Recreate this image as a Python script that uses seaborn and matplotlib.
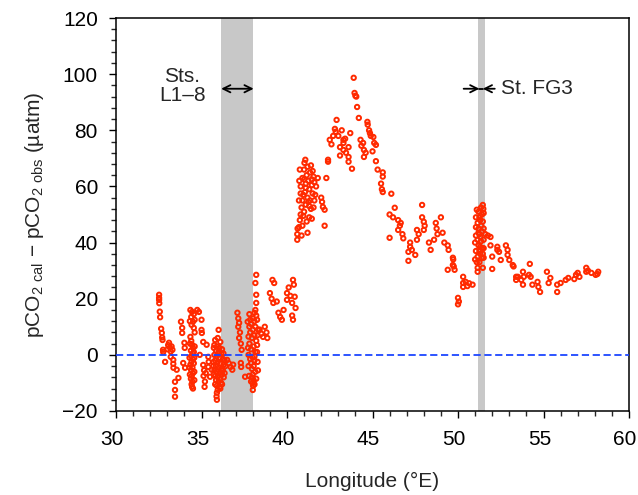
import matplotlib
matplotlib.use("Agg")
import matplotlib.pyplot as plt
from matplotlib.ticker import MultipleLocator
from matplotlib.transforms import ScaledTranslation
import pandas as pd
import seaborn as sns

# Longitude (°E) and pCO2 difference (µatm) along the cruise track, grouped by section
lon_west = [32.52, 32.52, 32.52, 32.53, 32.56, 32.58, 32.64, 32.68, 32.70, 32.72, 32.75, 32.76,
            32.87, 33.02, 33.05, 33.10, 33.15, 33.20, 33.20, 33.25, 33.30, 33.35, 33.35, 33.36,
            33.45, 33.45, 33.45, 33.55, 33.65, 33.80, 33.87, 33.87, 34.00, 34.02, 33.93, 34.04]
diff_west = [21.4, 20.3, 19.6, 18.4, 15.4, 13.4, 9.3, 7.8, 6.2, 5.3, 1.8, 1.0,
             -2.5, 2.0, 3.5, 4.3, 2.6, 1.2, -0.7, 3.0, 1.8, -1.8, -3.2, -4.6,
             -9.6, -12.5, -14.9, -5.3, -8.2, 11.8, 9.6, 7.8, 4.3, 2.5, -2.9, -4.6]

lon_34 = [34.35, 34.45, 34.55, 34.40, 34.50, 34.42, 34.55, 34.35, 34.40, 34.45, 34.50, 34.38,
          34.48, 34.40, 34.50, 34.42, 34.35, 34.47, 34.40, 34.50, 34.43, 34.38, 34.47, 34.42,
          34.45, 34.55, 34.58, 34.30, 34.55, 34.32, 34.60, 34.33, 34.58, 34.32, 34.58, 34.60,
          34.30, 34.60, 34.50,
          34.75, 34.85, 35.00, 35.00, 35.02, 35.10, 34.90,
          35.10, 35.15, 35.12, 35.20, 35.18, 35.25, 35.30, 35.40, 35.42, 35.40, 35.50, 35.60]
diff_34 = [16.0, 15.3, 14.5, 13.5, 11.8, 10.7, 9.6, 6.4, 5.0, 3.6, 2.5, 1.5,
           0.5, -0.5, -1.5, -2.5, -3.5, -4.5, -5.5, -6.5, -7.5, -8.5, -9.5, -10.5,
           -11.4, -3.0, -6.0, -1.0, 1.0, 12.0, 8.0, 4.0, -1.0, -7.0, -9.0, 3.0,
           -4.5, 12.5, -12.0,
           16.0, 15.3, 12.5, 8.9, 7.8, 4.6, 0.0,
           -3.6, -5.5, -7.5, -9.5, -11.4, -6.5, 3.6, -0.7, -2.5, -4.3, -7.8, -5.3]

lon_36 = [36.00, 35.95, 35.80, 36.10, 35.75, 35.90, 36.05, 36.20, 35.85, 36.00, 36.15, 35.75,
          35.90, 36.05, 36.25, 35.80, 35.95, 36.10, 36.30, 35.85, 36.00, 36.15, 35.75, 35.90,
          36.05, 36.20, 35.80, 35.95, 36.10, 35.85, 36.00, 36.15, 35.90, 36.05, 35.95, 35.90,
          35.88, 35.90, 36.35, 36.40, 35.70, 35.72, 36.25, 36.30, 36.28, 35.72, 36.20, 36.10,
          35.80, 36.35, 35.70,
          36.50, 36.60, 36.70, 36.80, 36.85,
          37.10, 37.15, 37.20, 37.15, 37.25, 37.20, 37.30, 37.35, 37.30, 37.32, 37.55, 37.70]
diff_36 = [8.9, 6.0, 5.3, 4.6, 3.5, 3.0, 2.5, 2.0, 1.5, 1.0, 0.5, 0.0,
           -0.5, -1.0, -1.5, -2.0, -2.5, -3.0, -3.5, -4.0, -4.5, -5.0, -5.5, -6.0,
           -6.5, -7.0, -7.5, -8.0, -8.5, -9.0, -9.5, -10.0, -11.0, -11.5, -12.5, -13.5,
           -14.8, -16.0, -2.0, -4.0, -2.5, -7.0, -5.5, -8.0, 0.5, 2.5, -10.5, -12.0,
           -10.5, -6.5, -4.0,
           -1.8, -3.0, -4.3, -5.3, -3.5,
           15.0, 13.0, 11.4, 10.0, 8.0, 6.0, 4.0, 1.8, -2.9, -4.3, -7.8, 11.8]

lon_38 = [38.20, 38.15, 38.20, 38.20, 38.15, 38.10, 38.20, 38.00, 38.10, 37.90, 38.15, 38.00,
          37.85, 38.10, 37.95, 38.20, 37.80, 38.05, 37.90, 38.15, 37.75, 38.00, 38.10, 37.90,
          38.05, 37.95, 38.15, 38.00, 37.95, 38.05, 38.00, 38.02, 38.00, 38.25, 38.30, 37.80,
          37.85, 38.25, 37.75, 38.10, 37.75, 37.78, 38.28, 38.30, 37.72, 38.28, 37.80, 38.25,
          37.90, 38.10, 38.20, 37.85]
diff_38 = [28.5, 25.6, 21.4, 18.5, 16.0, 15.0, 14.0, 13.0, 12.0, 11.0, 10.0, 9.0,
           8.0, 7.0, 6.0, 5.0, 4.0, 3.0, 2.0, 1.0, 0.0, -1.0, -2.0, -3.0,
           -4.0, -5.0, -6.0, -7.0, -8.0, -9.0, -10.0, -11.0, -12.5, 12.5, 9.0, 14.5,
           -1.5, 3.5, 6.5, -0.5, -4.0, -7.5, -2.5, -5.5, 2.5, 7.0, 10.0, 1.0,
           -9.5, -10.5, -8.5, 12.5]

lon_39 = [38.40, 38.50, 38.60, 38.70, 38.80, 38.85, 39.15, 39.25, 39.00, 39.10, 39.20, 39.40,
          39.50, 39.60, 39.70, 39.80, 40.00, 40.00, 40.10, 40.20, 40.30, 40.35, 40.40, 40.45,
          40.50, 40.30, 40.35]
diff_39 = [9.0, 7.5, 6.4, 10.0, 8.0, 6.0, 26.7, 25.6, 22.0, 20.0, 18.5, 19.0,
           15.0, 13.5, 12.5, 16.0, 22.0, 19.6, 24.0, 21.0, 18.5, 26.7, 25.0, 20.7,
           16.7, 14.0, 12.5]

lon_41 = [40.60, 40.60, 40.62, 40.90, 40.75, 40.80, 41.00, 40.85, 41.10, 40.90, 41.20, 40.95,
          41.05, 41.30, 40.80, 41.10, 41.25, 40.90, 41.15, 41.35, 41.00, 41.20, 41.02, 41.07,
          41.45, 41.50, 41.55, 41.60, 41.40, 41.30, 41.15, 40.95, 41.10, 41.00, 41.25, 41.80,
          41.70, 42.00, 42.05, 42.10, 42.20, 42.20, 42.30, 42.40, 42.40,
          40.70, 40.72, 40.75, 41.40, 41.50, 41.55, 41.45, 40.70, 41.20, 40.85, 41.65, 41.35,
          41.30, 40.80, 41.45, 41.60]
diff_41 = [41.0, 43.0, 45.0, 46.0, 48.0, 50.0, 51.0, 52.5, 53.5, 55.0, 56.0, 57.0,
           58.0, 59.0, 60.0, 61.0, 62.0, 63.0, 64.0, 65.0, 66.0, 67.0, 68.4, 69.5,
           60.5, 57.5, 63.5, 55.0, 52.0, 49.0, 47.5, 49.5, 59.5, 62.5, 54.5, 63.0,
           60.0, 56.0, 54.5, 52.7, 51.7, 46.0, 63.0, 68.8, 69.5,
           55.0, 62.0, 66.0, 67.5, 65.5, 52.5, 48.5, 45.5, 43.5, 42.5, 57.0, 55.0,
           53.0, 57.5, 62.5, 61.5]

lon_44 = [42.50, 42.70, 42.90, 42.80, 42.85, 43.00, 43.10, 43.10, 43.30, 43.30, 43.40, 43.30,
          43.60, 43.60, 43.70, 43.60, 43.80, 43.90, 43.95, 44.00, 44.05, 44.10, 44.20, 44.30,
          44.45, 44.50, 44.50, 44.70, 44.72, 44.80, 44.85, 45.05, 45.10, 45.20, 45.20, 45.30,
          45.60, 45.60, 45.50, 45.55, 45.60, 46.10, 46.30, 46.00, 46.20, 46.50, 46.60, 46.50,
          46.75, 46.80, 46.00, 46.65, 42.60, 43.20, 43.45, 44.35, 44.60, 44.90, 45.00]
diff_44 = [76.6, 78.0, 83.7, 80.5, 79.5, 78.0, 74.0, 71.0, 75.5, 76.6, 77.0, 73.0,
           70.5, 68.8, 79.0, 74.0, 66.3, 98.7, 93.3, 92.3, 92.0, 88.3, 84.4, 76.6,
           75.5, 73.0, 70.5, 83.0, 82.0, 80.0, 79.0, 77.6, 75.5, 74.8, 69.0, 66.0,
           65.0, 63.5, 61.0, 59.0, 58.0, 57.4, 52.4, 50.0, 49.0, 48.0, 46.0, 44.5,
           43.0, 41.5, 41.7, 47.0, 75.0, 80.0, 72.0, 74.5, 72.0, 78.0, 72.5]

lon_48 = [47.20, 47.20, 47.10, 47.50, 47.10, 47.30, 47.60, 47.60, 47.70, 47.90, 47.90, 48.00,
          48.00, 48.05, 48.30, 48.40, 48.60, 48.70, 48.75, 48.80, 49.00, 49.10, 49.20, 49.40,
          49.45, 49.70, 49.70, 49.80, 49.40, 49.72, 49.75, 50.00, 50.05, 50.00,
          50.30, 50.30, 50.30, 50.45, 50.55, 50.65, 50.85]
diff_48 = [40.0, 38.5, 36.7, 35.6, 33.5, 37.4, 41.0, 44.5, 43.0, 49.0, 53.4, 47.4,
           44.5, 46.0, 40.0, 37.4, 41.0, 47.0, 45.0, 43.0, 49.0, 43.5, 40.0, 39.0,
           37.4, 34.6, 32.0, 30.3, 30.3, 34.0, 31.5, 20.3, 19.0, 18.0,
           27.8, 25.6, 24.2, 26.0, 24.5, 25.5, 25.0]

lon_fg3 = [51.45, 51.35, 51.10, 51.20, 51.40, 51.25, 51.30, 51.15, 51.35, 51.20, 51.40, 51.25,
           51.30, 51.15, 51.00, 51.35, 51.20, 51.40, 51.25, 51.30, 51.15, 51.00, 51.40, 51.50,
           51.25, 51.15, 51.15, 51.45, 51.30, 51.20, 51.45, 51.48,
           51.05, 51.05, 51.50, 51.50, 51.05, 51.50, 51.10, 51.50, 51.05, 51.45]
diff_fg3 = [53.4, 52.5, 51.7, 51.0, 50.0, 49.0, 48.0, 47.0, 46.0, 45.0, 44.0, 43.0,
            42.0, 41.0, 40.0, 40.5, 39.0, 38.0, 37.0, 36.0, 35.0, 34.0, 34.5, 34.6,
            33.0, 31.0, 29.6, 31.0, 38.5, 43.5, 47.5, 52.0,
            45.5, 49.0, 45.0, 41.0, 37.0, 38.0, 33.0, 50.5, 42.5, 36.0]

lon_east = [51.60, 51.75, 51.90, 51.90, 52.00, 52.00, 52.30, 52.30, 52.40, 52.50, 52.80, 52.90,
            52.90, 53.00, 53.20, 53.25, 53.40, 53.40, 53.50, 53.70, 53.80, 53.80, 53.85, 54.20,
            54.15, 54.25, 54.35, 54.65, 54.70, 54.80, 55.20, 55.40, 55.30, 55.80, 55.80, 56.00,
            56.30, 56.45, 56.80, 56.90, 57.00, 57.10, 57.50, 57.50, 57.60, 57.80, 58.05, 58.20,
            58.15]
diff_east = [43.0, 42.5, 42.0, 39.0, 35.0, 30.6, 38.5, 37.4, 36.7, 33.8, 39.0, 37.4,
             35.6, 33.8, 32.0, 31.5, 27.8, 26.7, 27.8, 26.7, 29.6, 25.0, 27.8, 32.4,
             28.5, 27.8, 25.0, 26.0, 24.2, 22.4, 29.6, 27.4, 25.6, 25.0, 22.4, 25.6,
             26.7, 27.4, 27.0, 28.5, 29.2, 27.8, 31.0, 29.6, 30.0, 29.2, 28.5, 29.6,
             28.8]

# Station longitude ranges (shaded)
station_bands = [(36.15, 38.03), (51.15, 51.6)]

df = pd.DataFrame({
    "lon": lon_west + lon_34 + lon_36 + lon_38 + lon_39 + lon_41 + lon_44 + lon_48 + lon_fg3 + lon_east,
    "diff": diff_west + diff_34 + diff_36 + diff_38 + diff_39 + diff_41 + diff_44 + diff_48 + diff_fg3 + diff_east,
})

sns.set_theme(style="ticks")
plt.rcParams["font.family"] = ["Liberation Sans", "DejaVu Sans"]
plt.rcParams["mathtext.fontset"] = "custom"
plt.rcParams["mathtext.rm"] = "Liberation Sans"
plt.rcParams["axes.unicode_minus"] = True

RED = "#ff2a00"

fig = plt.figure(figsize=(6.38, 4.95), dpi=100)
ax = fig.add_axes([116 / 638, 84 / 495, 513 / 638, 393 / 495])

for x0, x1 in station_bands:
    ax.axvspan(x0, x1, color="#c8c8c8", lw=0, zorder=0)

sns.scatterplot(data=df, x="lon", y="diff", ax=ax, s=10, color=RED,
                edgecolor=RED, linewidth=1.4, legend=False, zorder=2)
ax.collections[-1].set_facecolor("none")

ax.axhline(0, color="#1d46ff", lw=1.3, ls=(0, (4, 2)), zorder=3)

ax.set_xlim(30, 60)
ax.set_ylim(-20, 120)
ax.set_xticks(range(30, 61, 5))
ax.xaxis.set_minor_locator(MultipleLocator(1))
ax.yaxis.set_major_locator(MultipleLocator(20))
ax.yaxis.set_minor_locator(MultipleLocator(4))
ax.tick_params(which="major", direction="out", length=5, width=1, colors="black",
               labelsize=15, top=False, right=False)
ax.tick_params(axis="x", which="major", pad=9)
ax.tick_params(axis="y", which="major", pad=8)
ax.tick_params(which="minor", direction="out", length=3.5, width=1, top=False, right=False)
for sp in ax.spines.values():
    sp.set_visible(True)
    sp.set_linewidth(1.1)
    sp.set_color("black")

# nudge the longitude labels slightly left so the last one stays inside the figure
shift = ScaledTranslation(-4 / 100, 0, fig.dpi_scale_trans)
for lbl in ax.get_xticklabels():
    lbl.set_transform(lbl.get_transform() + shift)

ax.set_xlabel("Longitude (°E)", fontsize=15, labelpad=16)
ax.set_ylabel(r"pCO$_{\mathregular{2\ cal}}$ − pCO$_{\mathregular{2\ obs}}$ (µatm)",
              fontsize=15, labelpad=12)

# Station annotations
ax.text(33.87, 95.8, "Sts.\nL1–8", fontsize=15, ha="center", va="center", linespacing=0.95)
ax.annotate("", xy=(38.05, 94.8), xytext=(36.15, 94.8),
            arrowprops=dict(arrowstyle="<->", lw=1.3, color="black", mutation_scale=13,
                            shrinkA=0, shrinkB=0))
ax.annotate("", xy=(51.25, 94.8), xytext=(50.33, 94.8),
            arrowprops=dict(arrowstyle="->", lw=1.3, color="black", mutation_scale=13,
                            shrinkA=0, shrinkB=0))
ax.annotate("", xy=(51.45, 94.8), xytext=(52.15, 94.8),
            arrowprops=dict(arrowstyle="->", lw=1.3, color="black", mutation_scale=13,
                            shrinkA=0, shrinkB=0))
ax.plot([51.25, 51.45], [94.8, 94.8], color="black", lw=1.3)
ax.text(52.5, 94.8, "St. FG3", fontsize=15, ha="left", va="center")

fig.savefig("out.png", dpi=100)
